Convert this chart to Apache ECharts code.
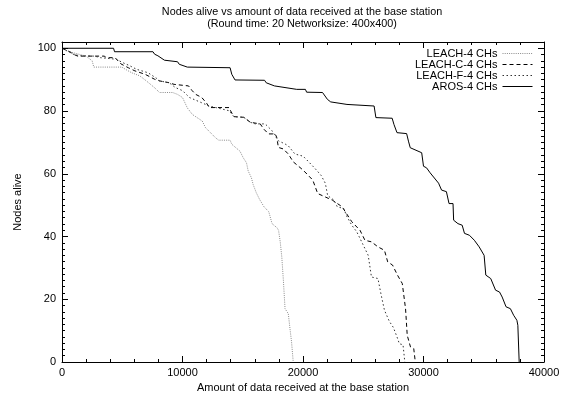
<!DOCTYPE html>
<html>
<head>
<meta charset="utf-8">
<script src="https://cdn.jsdelivr.net/npm/echarts@6/dist/echarts.min.js"></script>
<style>html,body{margin:0;padding:0;background:#fff;}#c{width:569px;height:399px;}</style>
</head>
<body>
<div id="c"></div>
<script>
const titleLines = ['Nodes alive vs amount of data received at the base station', '(Round time: 20 Networksize: 400x400)'];
const xAxisName = 'Amount of data received at the base station';
const yAxisName = 'Nodes alive';
const seriesNames = ['LEACH-4 CHs', 'LEACH-C-4 CHs', 'LEACH-F-4 CHs', 'AROS-4 CHs'];
const xTicks = [0, 10000, 20000, 30000, 40000];
const yTicks = [0, 20, 40, 60, 80, 100];

const leach4X = [0,500,1000,2000,2500,2640,4960,5400,5780,6460,7000,7690,8090,9180,9590,10000,10400,10820,11640,11910,12450,12730,13000,13950,14090,14770,15040,15310,15450,15720,15860,16130,16400,16760,17160,17430,17840,17970,18110,18240,18380,18510,18780,18920,19050,19190];
const leach4Y = [100,99,98.5,97.5,96,94,94,93,92.2,91.2,89.6,87.4,85.9,85.9,85.3,84.3,81,78.9,76.8,74.7,72.6,71.5,70.7,70.7,69.4,67.2,65.1,63.5,60.9,58.7,56.6,53.9,51.8,49.5,47.9,44.1,42.8,42,38.3,33.5,25.5,17,15.4,10.6,6.4,0];

const leachCX = [0,600,1000,1300,3500,3700,4400,4900,5500,6050,6900,7700,8100,8900,9300,10500,10800,11100,11600,12000,12220,13860,14000,14270,15090,15630,16450,16730,17140,17690,17820,17960,18370,18780,19190,20000,20810,21220,22430,23240,23510,24050,24730,25140,25680,26220,26760,27030,27430,27840,28240,28380,28510,28650,28920,29190,29320];
const leachCY = [100,99,98,97.5,97.5,97,97,95,93.8,92.8,91.7,90.1,89.6,89,88.5,88,86.5,85.3,84.3,82.5,81.1,81.1,80,78.2,78,76.4,75.9,74.3,72.7,72.7,71.6,68.4,67.9,66.3,63.8,61.2,58,53.7,51.6,49.5,47.9,44.7,42,38.8,38.3,36.7,35.6,31.9,30.9,27.7,25,24.5,17,8.5,4.8,4.3,0];

const leachFX = [0,500,1000,1500,2700,3200,4500,5000,5640,6190,7140,7820,8100,8900,9400,10000,10580,12220,13310,13860,14270,15090,15630,16040,16860,17410,17960,18510,18780,19330,20010,20420,20970,21500,21850,22050,22570,22840,23380,23650,24050,24460,24870,25410,25680,26220,26490,26760,27160,27500,27800,28000,28300,28450];
const leachFY = [100,99,98,97.6,97.5,97,96.5,95.5,94.4,93.3,92.2,90.5,89.6,89,87.5,86.5,84.3,81.6,80.6,80.1,78.2,78,76.4,75.9,75.9,73.8,70.5,69.5,68.9,66.3,65.6,64,61.8,59.5,57,53,51.6,49.5,48.9,46.3,43.6,41.5,38.3,34,27.1,26.6,21.3,16.5,13,11,8,5.8,5.5,0];

const arosX = [0,4280,4360,7550,7690,7960,8500,9590,9730,10400,13950,14090,14360,16810,16950,17630,19480,20200,20300,21620,22030,22300,23650,25900,26050,27400,27550,27800,28600,28750,28900,29850,30000,30250,30550,31250,31500,31900,32120,32450,32500,32860,33210,33400,33810,34220,34620,35030,35170,35580,35980,36310,36530,36850,37210,37480,37750,37830,37940];
const arosY = [100,100,98.9,98.9,98.1,97.6,96.2,95.7,94.9,94,93.8,91.7,89.9,89.8,89,88,86.9,86.9,86,85.9,83.7,82.9,82.1,81.6,77.9,77.7,75.7,73.1,72.8,70.4,68.3,66.7,62.4,61.9,60.3,57,54.8,54.3,50.5,50.5,45.2,44.1,43.6,41,40.4,38.8,36.7,34,27.7,26.6,22.9,22.3,20.7,17.6,17,14.9,13.3,11.7,0];

const FONT = '"Liberation Sans", Arial, Helvetica, sans-serif';
function zip(xs, ys) { return xs.map((x, i) => [x, ys[i]]); }

const chart = echarts.init(document.getElementById('c'), null, {renderer: 'canvas'});

function xAx(pos, interval, tickLen, main) {
  return {
    type: 'value', position: pos, min: 0, max: 40000, interval: interval,
    axisLine: {show: main, onZero: false, lineStyle: {color: '#000', width: 1}},
    axisTick: {show: true, inside: true, length: tickLen, lineStyle: {color: '#000', width: 1}},
    axisLabel: {show: main && pos === 'bottom', color: '#000', fontSize: 11, fontFamily: FONT, margin: 5,
      formatter: v => xTicks.indexOf(v) >= 0 ? String(v) : ''},
    splitLine: {show: false},
    name: (main && pos === 'bottom') ? xAxisName : '',
    nameLocation: 'middle', nameGap: 19,
    nameTextStyle: {color: '#000', fontSize: 11, fontFamily: FONT}
  };
}
function yAx(pos, interval, tickLen, main) {
  return {
    type: 'value', position: pos, min: 0, max: 102, interval: interval,
    axisLine: {show: main, onZero: false, lineStyle: {color: '#000', width: 1}},
    axisTick: {show: true, inside: true, length: tickLen, lineStyle: {color: '#000', width: 1}},
    axisLabel: {show: main && pos === 'left', color: '#000', fontSize: 11, fontFamily: FONT, margin: 6,
      formatter: v => yTicks.indexOf(v) >= 0 ? String(v) : ''},
    splitLine: {show: false},
    name: (main && pos === 'left') ? yAxisName : '',
    nameLocation: 'middle', nameGap: 39, nameRotate: 90,
    nameTextStyle: {color: '#000', fontSize: 11, fontFamily: FONT}
  };
}

const styles = [
  {color: '#8a8a8a', type: [1, 1.2], width: 1},
  {color: '#000000', type: [4, 3], width: 1},
  {color: '#333333', type: [1.5, 2.5], width: 1},
  {color: '#000000', type: 'solid', width: 1}
];
const datas = [zip(leach4X, leach4Y), zip(leachCX, leachCY), zip(leachFX, leachFY), zip(arosX, arosY)];

chart.setOption({
  animation: false,
  backgroundColor: '#fff',
  title: {
    text: titleLines.join('\n'), left: 302, top: 6, textAlign: 'center', padding: 0,
    textStyle: {fontSize: 10.8, fontWeight: 'normal', color: '#000', fontFamily: FONT, lineHeight: 12}
  },
  grid: {left: 62, right: 25, top: 42, bottom: 37, show: false},
  xAxis: [xAx('bottom', 10000, 6, true), xAx('bottom', 2000, 3, false), xAx('top', 10000, 6, true), xAx('top', 2000, 3, false)],
  yAxis: [yAx('left', 20, 6, true), yAx('left', 2, 3, false), yAx('right', 20, 6, true), yAx('right', 2, 3, false)],
  legend: {
    orient: 'vertical', right: 36, top: 48, align: 'right', padding: 0,
    itemWidth: 30, itemHeight: 10, itemGap: 0,
    textStyle: {fontSize: 11, color: '#000', fontFamily: FONT, lineHeight: 10},
    itemStyle: {color: 'rgba(0,0,0,0)', borderColor: 'rgba(0,0,0,0)', borderWidth: 0, opacity: 0},
    lineStyle: {width: 1},
    data: seriesNames
  },
  series: seriesNames.map((n, i) => ({
    name: n, type: 'line', data: datas[i], xAxisIndex: 0, yAxisIndex: 0,
    symbol: 'none', showSymbol: false, smooth: false, clip: true,
    lineStyle: styles[i], itemStyle: {color: styles[i].color}
  }))
});
</script>
</body>
</html>
